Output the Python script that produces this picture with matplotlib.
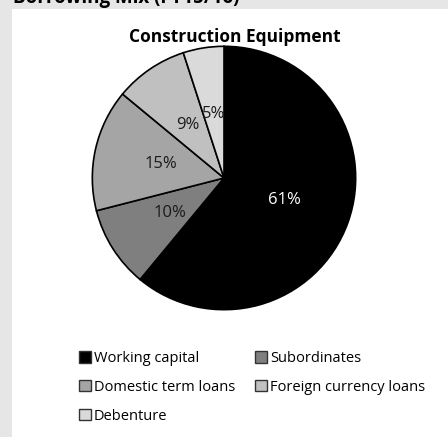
import matplotlib.pyplot as plt
from matplotlib.patches import Rectangle

plt.rcParams['font.family'] = ['Open Sans', 'DejaVu Sans']

# borrowing mix for the construction equipment segment
labels = ["Working capital", "Subordinates", "Domestic term loans",
          "Foreign currency loans", "Debenture"]
shares = [61, 10, 15, 9, 5]
colors = ["#000000", "#7f7f7f", "#a5a5a5", "#c0c0c0", "#dadada"]
text_colors = ["white", "#1a1a1a", "#1a1a1a", "#1a1a1a", "#1a1a1a"]

W, H = 448, 437
fig = plt.figure(figsize=(W / 100, H / 100), dpi=100)
fig.patch.set_facecolor("#e6e6e6")

# white panel behind the chart
fig.patches.append(Rectangle((12 / W, 0), 1 - 12 / W, 1 - 9 / H,
                             transform=fig.transFigure, facecolor="white",
                             edgecolor="none", zorder=-5))

# page heading, cut off at the top edge
fig.text(13 / W, 1 - 3.5 / H, "Borrowing Mix (FY15/16)", fontsize=13.5,
         fontweight="bold", ha="left", va="baseline")

fig.text(235 / W, 1 - 37 / H, "Construction Equipment", fontsize=12.5,
         fontweight="bold", ha="center", va="center")

cx, cy, r = 224, 178, 133
ax = fig.add_axes([(cx - r) / W, (H - cy - r) / H, 2 * r / W, 2 * r / H])
ax.set_zorder(2)
wedges, texts, autotexts = ax.pie(
    shares, colors=colors, startangle=90, counterclock=False,
    autopct="%d%%", pctdistance=0.49,
    wedgeprops=dict(edgecolor="black", linewidth=1.2))
for t, c in zip(autotexts, text_colors):
    t.set_color(c)
    t.set_fontsize(12)
ax.set_xlim(-1.01, 1.01)
ax.set_ylim(-1.01, 1.01)
ax.set_aspect("equal")

# row-major order for a two-column legend
order = [0, 2, 4, 1, 3]
leg = fig.legend([wedges[i] for i in order], [labels[i] for i in order],
                 ncol=2, loc="upper left",
                 bbox_to_anchor=(66 / W, 1 - 338 / H), frameon=False,
                 fontsize=10.5, handlelength=0.8, handleheight=0.8,
                 handletextpad=0.2, labelspacing=0.95, columnspacing=1.4)
for h in leg.legend_handles:
    h.set_linewidth(1.0)
    h.set_edgecolor("#333333")

fig.savefig("out.png", dpi=100, facecolor=fig.get_facecolor())
